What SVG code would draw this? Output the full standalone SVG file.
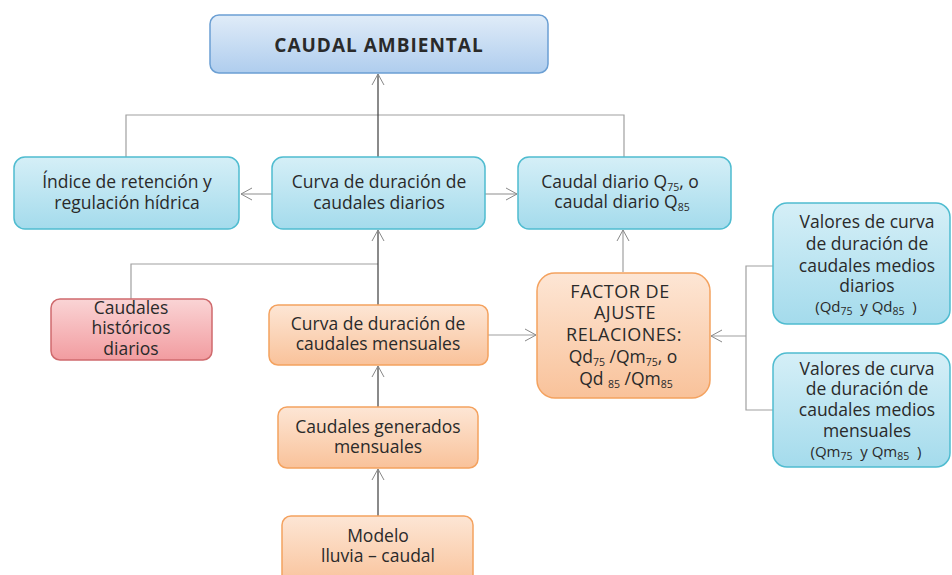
<svg xmlns="http://www.w3.org/2000/svg" width="952" height="575" viewBox="0 0 952 575">
<defs>
<linearGradient id="gBlue" x1="0" y1="0" x2="0" y2="1"><stop offset="0" stop-color="#e0ecf8"/><stop offset="1" stop-color="#afcdee"/></linearGradient>
<linearGradient id="gCyan" x1="0" y1="0" x2="0" y2="1"><stop offset="0" stop-color="#d5eff7"/><stop offset="1" stop-color="#a4dbec"/></linearGradient>
<linearGradient id="gOrange" x1="0" y1="0" x2="0" y2="1"><stop offset="0" stop-color="#fde6d5"/><stop offset="1" stop-color="#f9c29a"/></linearGradient>
<linearGradient id="gRed" x1="0" y1="0" x2="0" y2="1"><stop offset="0" stop-color="#fad4d5"/><stop offset="1" stop-color="#f29ca0"/></linearGradient>
<marker id="arr" markerUnits="userSpaceOnUse" markerWidth="16" markerHeight="16" viewBox="-12 -8 16 16" refX="0" refY="0" orient="auto">
<path d="M-11,-6 L0,0 L-11,6" fill="none" stroke="#888" stroke-width="1"/>
</marker>
</defs>
<style>
text{font-family:"Open Sans","Noto Sans","DejaVu Sans",sans-serif;font-size:17.5px;fill:#2a2a2a;text-anchor:middle}
.t{font-weight:bold;font-size:19px;letter-spacing:1px}
.big{font-size:18px;letter-spacing:0.5px}
.sm{font-size:15px}
.sub{font-size:10.5px;baseline-shift:-3px}
.blue{fill:url(#gBlue);stroke:#6b9fd3;stroke-width:1.5}
.cyan{fill:url(#gCyan);stroke:#4fbcd0;stroke-width:1.5}
.orange{fill:url(#gOrange);stroke:#f4a25f;stroke-width:1.5}
.red{fill:url(#gRed);stroke:#cf6a6d;stroke-width:1.5}
.ln{fill:none;stroke:#a0a0a0;stroke-width:1.2}
.dk{fill:none;stroke:#3c3c3c;stroke-width:1.2}
</style>
<g id="connectors">
<path class="ln" d="M126,157 V115 H624 V157"/>
<path class="dk" d="M378,157 V74" marker-end="url(#arr)"/>
<path class="ln" d="M272,194 H241" marker-end="url(#arr)"/>
<path class="ln" d="M485,194 H517" marker-end="url(#arr)"/>
<path class="ln" d="M623,272 V230" marker-end="url(#arr)"/>
<path class="ln" d="M131,299 V264 H378"/>
<path class="dk" d="M378,305 V230" marker-end="url(#arr)"/>
<path class="ln" d="M488,335 H536" marker-end="url(#arr)"/>
<path class="ln" d="M773,266 H746 V410 H773"/>
<path class="ln" d="M746,336 H711" marker-end="url(#arr)"/>
<path class="dk" d="M378,407 V366" marker-end="url(#arr)"/>
<path class="dk" d="M378,516 V469" marker-end="url(#arr)"/>
</g>
<g id="caudal-ambiental">
<rect class="blue" x="210" y="15" width="338" height="58" rx="9"/>
<text class="t" x="379" y="52">CAUDAL AMBIENTAL</text>
</g>
<g id="indice">
<rect class="cyan" x="14" y="157" width="225" height="72" rx="11"/>
<text x="127" y="188">Índice de retención y</text>
<text x="127" y="209">regulación hídrica</text>
</g>
<g id="curva-diarios">
<rect class="cyan" x="272" y="157" width="213" height="72" rx="11"/>
<text x="379" y="188">Curva de duración de</text>
<text x="379" y="209">caudales diarios</text>
</g>
<g id="caudal-diario">
<rect class="cyan" x="518" y="157" width="213" height="72" rx="11"/>
<text x="620" y="188">Caudal diario Q<tspan class="sub">75</tspan>, o</text>
<text x="622" y="208">caudal diario Q<tspan class="sub">85</tspan></text>
</g>
<g id="historicos">
<rect class="red" x="51" y="299" width="161" height="61" rx="9"/>
<text x="131" y="314">Caudales</text>
<text x="131" y="334">históricos</text>
<text x="131" y="355">diarios</text>
</g>
<g id="curva-mensuales">
<rect class="orange" x="269" y="305" width="219" height="60" rx="9"/>
<text x="378" y="330">Curva de duración de</text>
<text x="378" y="350">caudales mensuales</text>
</g>
<g id="factor">
<rect class="orange" x="537" y="273" width="173" height="125" rx="18"/>
<text class="big" x="620" y="298">FACTOR DE</text>
<text class="big" x="625" y="319">AJUSTE</text>
<text class="big" x="624" y="341">RELACIONES:</text>
<text x="623" y="363">Qd<tspan class="sub">75</tspan> /Qm<tspan class="sub">75</tspan>, o</text>
<text x="626" y="385">Qd <tspan class="sub">85</tspan> /Qm<tspan class="sub">85</tspan></text>
</g>
<g id="valores-diarios">
<rect class="cyan" x="773" y="203" width="177" height="121" rx="14"/>
<text x="867" y="228">Valores de curva</text>
<text x="867" y="250">de duración de</text>
<text x="867" y="272">caudales medios</text>
<text x="867" y="292">diarios</text>
<text class="sm" x="866" y="312" xml:space="preserve">(Qd<tspan class="sub">75</tspan>  y Qd<tspan class="sub">85</tspan>  )</text>
</g>
<g id="valores-mensuales">
<rect class="cyan" x="773" y="353" width="177" height="114" rx="14"/>
<text x="867" y="375">Valores de curva</text>
<text x="867" y="395">de duración de</text>
<text x="867" y="416">caudales medios</text>
<text x="867" y="437">mensuales</text>
<text class="sm" x="866" y="457" xml:space="preserve">(Qm<tspan class="sub">75</tspan>  y Qm<tspan class="sub">85</tspan>  )</text>
</g>
<g id="generados">
<rect class="orange" x="278" y="407" width="200" height="61" rx="9"/>
<text x="378" y="433">Caudales generados</text>
<text x="378" y="453">mensuales</text>
</g>
<g id="modelo">
<rect class="orange" x="282" y="516" width="191" height="70" rx="9"/>
<text x="378" y="542">Modelo</text>
<text x="378" y="562">lluvia – caudal</text>
</g>
</svg>
